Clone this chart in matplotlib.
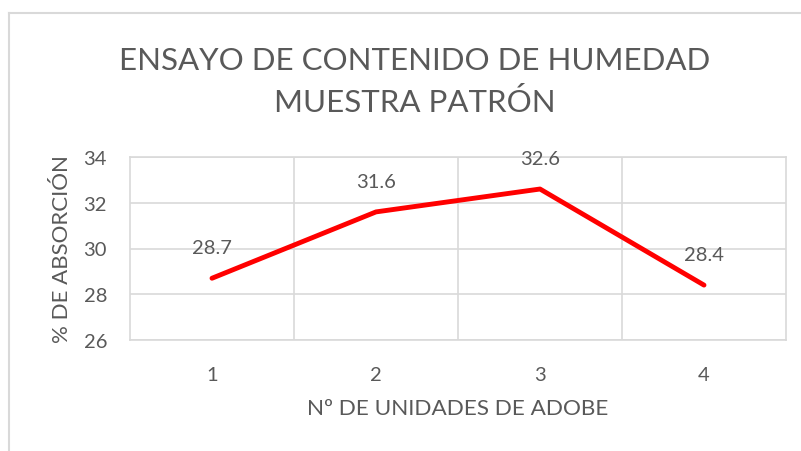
import matplotlib.pyplot as plt
from matplotlib.lines import Line2D

# data
unidades = [1, 2, 3, 4]
absorcion = [28.7, 31.6, 32.6, 28.4]
etiquetas = ["28.7", "31.6", "32.6", "28.4"]
y_ticks = [26, 28, 30, 32, 34]

titulo_1 = "ENSAYO DE CONTENIDO DE HUMEDAD"
titulo_2 = "MUESTRA PATRÓN"
x_titulo = "Nº DE UNIDADES DE ADOBE"
y_titulo = "% DE ABSORCIÓN"

GRIS = "#595959"
GRID = "#d9d9d9"

plt.rcParams['font.family'] = ['Lato', 'DejaVu Sans']

W, H = 801, 452
fig = plt.figure(figsize=(W / 100, H / 100), dpi=100)

# chart area border (only left and top visible in the crop)
fig.add_artist(Line2D([8.5 / W, 8.5 / W], [0, 1 - 13.5 / H], color=GRID, lw=1.5, transform=fig.transFigure))
fig.add_artist(Line2D([8.5 / W, 1], [1 - 13.5 / H, 1 - 13.5 / H], color=GRID, lw=1.5, transform=fig.transFigure))

ax = fig.add_axes([130 / W, 1 - 341 / H, (786 - 130) / W, (341 - 158) / H])

ax.plot(unidades, absorcion, color="#ff0000", lw=3.5, solid_capstyle="round", zorder=3)
for x, y, t in zip(unidades, absorcion, etiquetas):
    ax.annotate(t, (x, y), xytext=(0, 22), textcoords="offset points",
                ha="center", va="center", fontsize=14.5, color=GRIS)

ax.set_xlim(0.5, 4.5)
ax.set_ylim(26, 34)
ax.set_yticks(y_ticks)
ax.set_xticks(unidades)
ax.set_xticks([1.5, 2.5, 3.5], minor=True)
ax.grid(True, which="major", axis="y", color=GRID, lw=1.2)
ax.grid(True, which="minor", axis="x", color=GRID, lw=1.2)
ax.tick_params(axis="both", which="both", length=0, labelsize=14.5, labelcolor=GRIS)
ax.tick_params(axis="y", pad=16.5)
ax.tick_params(axis="x", pad=18.5)
for s in ax.spines.values():
    s.set_color(GRID)
    s.set_linewidth(1.2)

ax.set_xlabel(x_titulo, fontsize=16.2, color=GRIS, labelpad=11)
ax.set_ylabel(y_titulo, fontsize=16, color=GRIS, labelpad=8)

cx = 415 / W
fig.text(cx, 1 - 61 / H, titulo_1, ha="center", va="center", fontsize=22.5, color=GRIS)
fig.text(cx, 1 - 103 / H, titulo_2, ha="center", va="center", fontsize=22.5, color=GRIS)

fig.savefig("out.png", dpi=100)
